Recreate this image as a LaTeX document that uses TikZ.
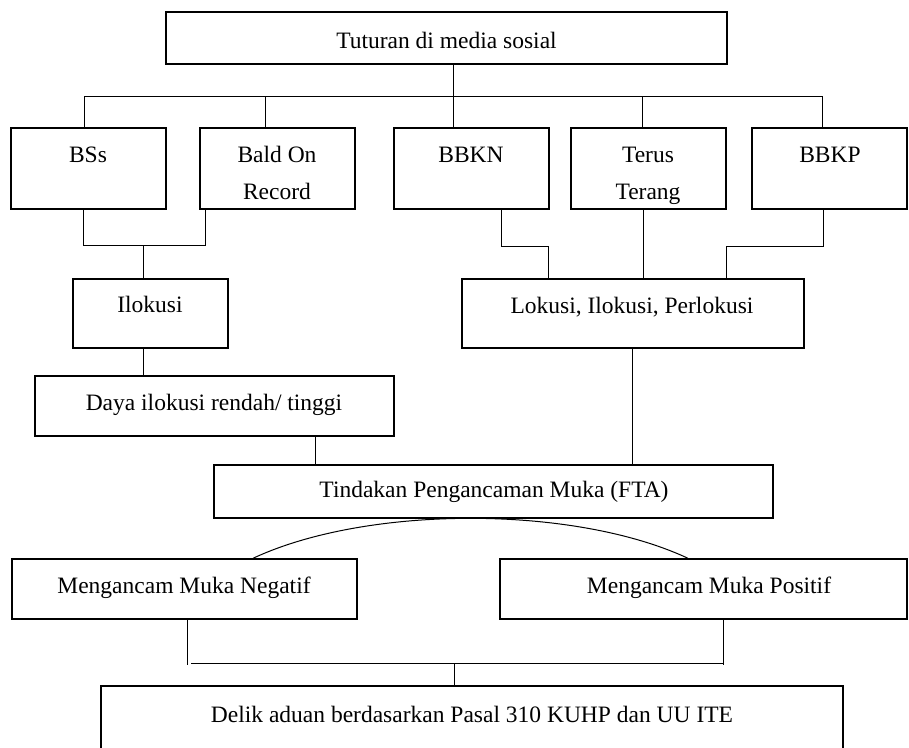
\documentclass[tikz,border=0pt]{standalone}
\usepackage{fontspec}
\setmainfont{Liberation Serif}
\begin{document}
\begin{tikzpicture}[x=1pt,y=-1pt,
  box/.style={draw, line width=1.4pt, inner sep=0pt},
  txt/.style={font=\fontsize{23.5}{28}\selectfont, inner sep=0pt, anchor=base},
  conn/.style={draw, line width=1pt}]
\useasboundingbox (0,0) rectangle (909,747);
\clip (0,0) rectangle (909,747);
% boxes
\node[box, minimum width=561pt, minimum height=52pt] (top) at (446.5,38) {};
\node[box, minimum width=155pt, minimum height=81pt] (bss) at (88.5,168.5) {};
\node[box, minimum width=155pt, minimum height=81pt] (bald) at (277.5,168.5) {};
\node[box, minimum width=155pt, minimum height=81pt] (bbkn) at (471.5,168.5) {};
\node[box, minimum width=155pt, minimum height=81pt] (terus) at (648.5,168.5) {};
\node[box, minimum width=155pt, minimum height=81pt] (bbkp) at (829.5,168.5) {};
\node[box, minimum width=155pt, minimum height=69pt] (ilok) at (150.5,313.5) {};
\node[box, minimum width=342pt, minimum height=69pt] (lok) at (633,313.5) {};
\node[box, minimum width=359pt, minimum height=60pt] (daya) at (214.5,406) {};
\node[box, minimum width=559pt, minimum height=53pt] (tind) at (493.5,491.5) {};
\node[box, minimum width=345pt, minimum height=60pt] (neg) at (184.5,589) {};
\node[box, minimum width=407pt, minimum height=60pt] (pos) at (703.5,589) {};
\node[box, minimum width=742pt, minimum height=84pt] (delik) at (472,728) {};
% texts
\node[txt] (ttop) at (446.5,48) {Tuturan di media sosial};
\node[txt] (tbss) at (88,162) {BSs};
\node[txt] (tbald1) at (277,162) {Bald On};
\node[txt] (tbald2) at (277,199) {Record};
\node[txt] (tbbkn) at (471,162) {BBKN};
\node[txt] (tterus1) at (648,162) {Terus};
\node[txt] (tterus2) at (648,199) {Terang};
\node[txt] (tbbkp) at (830,162) {BBKP};
\node[txt] (tilok) at (150,312) {Ilokusi};
\node[txt] (tlok) at (632,313) {Lokusi, Ilokusi, Perlokusi};
\node[txt] (tdaya) at (214,410) {Daya ilokusi rendah/ tinggi};
\node[txt] (ttind) at (494,497) {Tindakan Pengancaman Muka (FTA)};
\node[txt] (tneg) at (184,593) {Mengancam Muka Negatif};
\node[txt] (tpos) at (709,593) {Mengancam Muka Positif};
\node[txt] (tdelik) at (472,722) {Delik aduan berdasarkan Pasal 310 KUHP dan UU ITE};
% connectors
\coordinate (br) at (453,96);
\draw[conn] (top.south -| br) -- (br);
\draw[conn] (bss.north -| 84,0) -- (84,96) -- (822,96) -- (bbkp.north -| 822,0);
\draw[conn] (265,96) -- (bald.north -| 265,0);
\draw[conn] (br) -- (bbkn.north -| br);
\draw[conn] (642,96) -- (terus.north -| 642,0);
\draw[conn] (bss.south -| 83,0) |- (205,245) -- (bald.south -| 205,0);
\draw[conn] (143,245) -- (ilok.north -| 143,0);
\draw[conn] (bbkn.south -| 501,0) |- (548,246) -- (lok.north -| 548,0);
\draw[conn] (terus.south -| 643,0) -- (lok.north -| 643,0);
\draw[conn] (bbkp.south -| 823,0) |- (726,246) -- (lok.north -| 726,0);
\draw[conn] (ilok.south -| 143,0) -- (daya.north -| 143,0);
\draw[conn] (daya.south -| 315,0) -- (tind.north -| 315,0);
\draw[conn] (lok.south -| 632,0) -- (tind.north -| 632,0);
\draw[conn] (neg.north -| 253,0) .. controls (367,505) and (574,505) .. (pos.north -| 688,0);
\draw[conn] (neg.south -| 187,0) -- (187,665);
\draw[conn] (pos.south -| 723,0) -- (723,665);
\draw[conn] (191,663) -- (723,663);
\draw[conn] (454,663) -- (delik.north -| 454,0);
\end{tikzpicture}
\end{document}
